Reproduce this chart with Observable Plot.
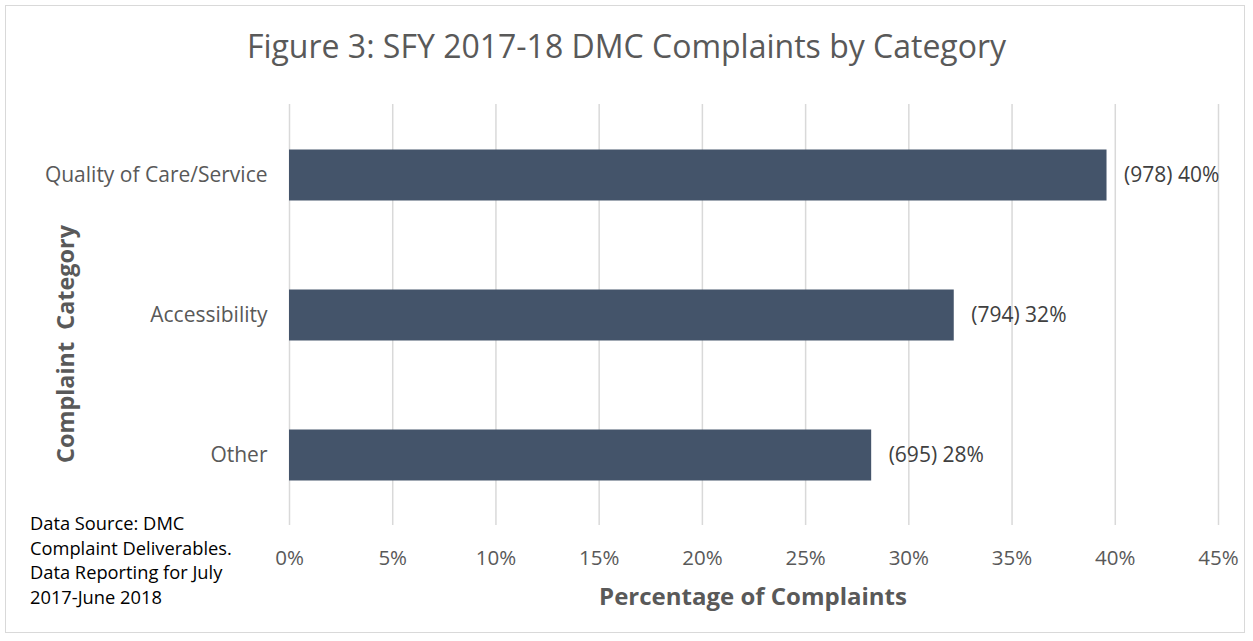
<!DOCTYPE html>
<html>
<head>
<meta charset="utf-8">
<script src="https://cdn.jsdelivr.net/npm/d3@7"></script>
<script src="https://cdn.jsdelivr.net/npm/@observablehq/plot@0.6"></script>
<style>
  html, body { margin: 0; padding: 0; background: #fff; }
  #wrap { position: relative; width: 1253px; height: 641px; overflow: hidden; font-family: "Open Sans", "Noto Sans", sans-serif; }
  #frame { position: absolute; left: 5px; top: 5px; width: 1240px; height: 628px; border: 1.5px solid #d9d9d9; box-sizing: border-box; }
  #title { position: absolute; left: 0; width: 1253px; top: 30px; line-height: 1; text-align: center; font-size: 32px; color: #595959; white-space: nowrap; }
  #xlabel { position: absolute; left: 753px; transform: translateX(-50%); top: 584px; line-height: 1; font-size: 24px; font-weight: bold; color: #595959; white-space: nowrap; }
  #ylabel { position: absolute; left: 66px; top: 344px; transform: translate(-50%, -50%) rotate(-90deg); line-height: 1; font-size: 23.4px; font-weight: bold; color: #595959; white-space: pre; }
  #source { position: absolute; left: 30px; top: 511px; font-size: 18.3px; line-height: 24.7px; color: #000; white-space: nowrap; }
  #chart { position: absolute; left: 0; top: 0; }
</style>
</head>
<body>
<div id="wrap">
  <div id="frame"></div>
  <div id="chart"></div>
  <div id="title">Figure 3: SFY 2017-18 DMC Complaints by Category</div>
  <div id="ylabel">Complaint  Category</div>
  <div id="xlabel">Percentage of Complaints</div>
  <div id="source">Data Source: DMC<br>Complaint Deliverables.<br>Data Reporting for July<br>2017-June 2018</div>
</div>
<script>
const categories = ["Quality of Care/Service", "Accessibility", "Other"];
const counts = [978, 794, 695];
const percents = [39.6, 32.2, 28.2];
const labels = ["(978) 40%", "(794) 32%", "(695) 28%"];
const xTicks = [0, 5, 10, 15, 20, 25, 30, 35, 40, 45];

const data = categories.map((c, i) => ({category: c, count: counts[i], pct: percents[i], label: labels[i]}));

const chart = Plot.plot({
  width: 1253,
  height: 641,
  marginLeft: 289,
  marginRight: 35,
  marginTop: 104,
  marginBottom: 116,
  style: {background: "transparent", fontFamily: "Open Sans, Noto Sans, sans-serif"},
  x: {domain: [0, 45], ticks: xTicks, tickFormat: d => d + "%", label: null},
  y: {domain: categories, padding: 0, label: null},
  marks: [
    Plot.ruleX(xTicks, {stroke: "#d9d9d9", strokeWidth: 1.5}),
    Plot.barX(data, {x: "pct", y: "category", fill: "#44546a", insetTop: 44.5, insetBottom: 44.5}),
    Plot.text(data, {x: "pct", y: "category", text: "label", textAnchor: "start", dx: 17, fill: "#404040", fontSize: 21}),
    Plot.axisX({ticks: xTicks, tickFormat: d => d + "%", tickSize: 0, tickPadding: 24.5, fontSize: 20.5, color: "#595959", label: null}),
    Plot.axisY({tickSize: 0, tickPadding: 22, fontSize: 21, color: "#595959", label: null})
  ]
});
document.getElementById("chart").appendChild(chart);
</script>
</body>
</html>
